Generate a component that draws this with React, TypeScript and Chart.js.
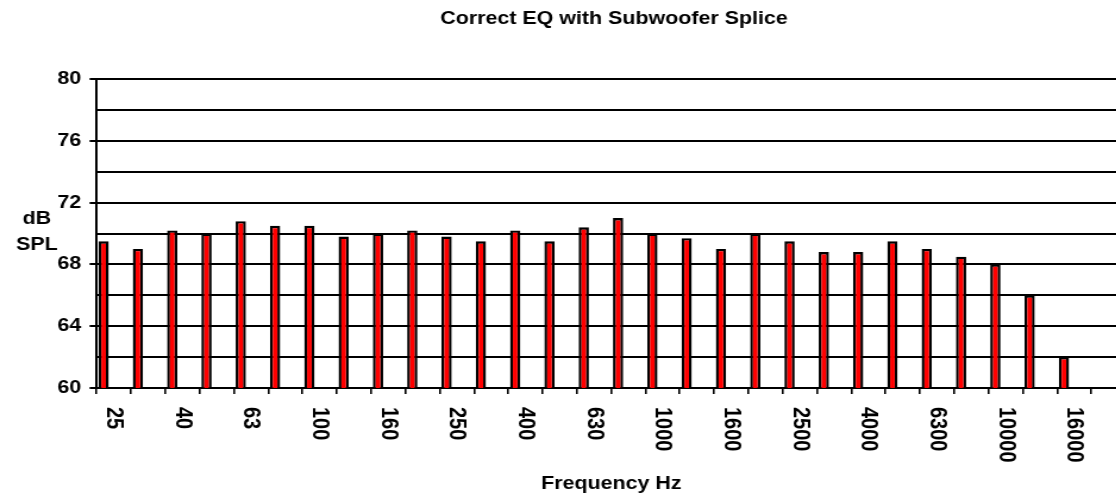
import React, { useEffect, useRef } from "react";
import { Chart, registerables } from "chart.js";

Chart.register(...registerables);

// ---- data ----
const frequencyLabels: string[] = [
  "25", "31.5", "40", "50", "63", "80", "100", "125", "160", "200",
  "250", "315", "400", "500", "630", "800", "1000", "1250", "1600", "2000",
  "2500", "3150", "4000", "5000", "6300", "8000", "10000", "12500", "16000", "20000",
];
const splValues: (number | null)[] = [
  69.5, 69.0, 70.2, 70.0, 70.8, 70.5, 70.5, 69.8, 70.0, 70.2,
  69.8, 69.5, 70.2, 69.5, 70.4, 71.0, 70.0, 69.7, 69.0, 70.0,
  69.5, 68.8, 68.8, 69.5, 69.0, 68.5, 68.0, 66.0, 62.0, null,
];
// the source chart holds two more (empty) series in each cluster
const emptySeriesB: (number | null)[] = [];
const emptySeriesC: (number | null)[] = [];

const Y_MIN = 60;
const Y_MAX = 80;
const Y_GRID_STEP = 2;
const Y_LABEL_STEP = 4;

const TITLE = "Correct EQ with Subwoofer Splice";
const X_TITLE = "Frequency Hz";
const Y_TITLE_LINES = ["dB", "SPL"];

// ---- layout ----
const FONT = "'Liberation Sans', Arial, Helvetica, sans-serif";
const STRETCH = 1.19; // the picture is widened horizontally
const INNER_W = 1032;
const H = 495;

const labelPlugin = {
  id: "rotatedLabels",
  afterDraw(chart: any) {
    const { ctx } = chart;
    const x = chart.scales.x;
    ctx.save();
    ctx.fillStyle = "#000";
    ctx.font = `bold 20px ${FONT}`;
    frequencyLabels.forEach((lab, i) => {
      if (i % 2 !== 0) return;
      const px = x.getPixelForValue(i);
      ctx.save();
      ctx.translate(px, x.top + 19);
      ctx.rotate(Math.PI / 2);
      ctx.textAlign = "left";
      ctx.textBaseline = "middle";
      ctx.fillText(lab, 0, 0);
      ctx.restore();
    });
    ctx.font = `bold 18px ${FONT}`;
    ctx.textAlign = "center";
    ctx.textBaseline = "middle";
    Y_TITLE_LINES.forEach((t, k) => {
      ctx.fillText(t, 31, 219 + k * 26);
    });
    ctx.restore();
  },
};

export default function App() {
  const ref = useRef<HTMLCanvasElement | null>(null);

  useEffect(() => {
    if (!ref.current) return;
    const chart = new Chart(ref.current, {
      type: "bar",
      data: {
        labels: frequencyLabels,
        datasets: [
          {
            label: "SPL",
            data: splValues,
            backgroundColor: "#FF0000",
            borderColor: "#000000",
            borderWidth: 2.4,
          },
          { label: "B", data: emptySeriesB, backgroundColor: "#FF0000" },
          { label: "C", data: emptySeriesC, backgroundColor: "#FF0000" },
        ],
      },
      plugins: [labelPlugin],
      options: {
        responsive: false,
        maintainAspectRatio: false,
        devicePixelRatio: 1,
        animation: false,
        datasets: {
          bar: { categoryPercentage: 0.9, barPercentage: 1 },
        },
        layout: { padding: 0 },
        plugins: {
          legend: { display: false },
          tooltip: { enabled: false },
          title: {
            display: true,
            text: TITLE,
            color: "#000",
            font: { family: FONT, size: 18, weight: "bold" },
            padding: { top: 8.2, bottom: 49.2 },
          },
        },
        scales: {
          x: {
            offset: true,
            grid: {
              display: true,
              offset: true,
              drawOnChartArea: false,
              drawTicks: true,
              tickLength: 6,
              color: "#000",
              lineWidth: 1.6,
            },
            border: { display: true, color: "#000", width: 2 },
            ticks: { display: false },
            title: {
              display: true,
              text: X_TITLE,
              color: "#000",
              font: { family: FONT, size: 18, weight: "bold" },
              padding: 0,
            },
            afterFit: (s: any) => {
              s.height = 107;
            },
          },
          y: {
            min: Y_MIN,
            max: Y_MAX,
            grid: {
              color: "#000",
              lineWidth: 2,
              tickLength: 6,
              tickColor: (c: any) =>
                c.tick && c.tick.value % Y_LABEL_STEP === 0 ? "#000" : "rgba(0,0,0,0)",
            },
            border: { display: true, color: "#000", width: 2 },
            ticks: {
              stepSize: Y_GRID_STEP,
              autoSkip: false,
              color: "#000",
              padding: 7,
              font: { family: FONT, size: 18, weight: "bold" },
              callback: (v: any) => (Number(v) % Y_LABEL_STEP === 0 ? String(v) : ""),
            },
            afterFit: (s: any) => {
              s.width = 81.3;
            },
          },
          yRight: {
            type: "linear",
            position: "right",
            display: true,
            grid: { display: false },
            border: { display: false },
            ticks: { display: false },
            afterFit: (s: any) => {
              s.width = 86;
            },
          },
        },
      } as any,
    });
    return () => chart.destroy();
  }, []);

  return (
    <div
      style={{
        position: "fixed",
        left: 0,
        top: 0,
        width: 1116,
        height: H,
        overflow: "hidden",
        background: "#fff",
      }}
    >
      <canvas
        ref={ref}
        width={INNER_W}
        height={H}
        style={{ width: `${Math.round(INNER_W * STRETCH)}px`, height: `${H}px`, display: "block" }}
      />
    </div>
  );
}
